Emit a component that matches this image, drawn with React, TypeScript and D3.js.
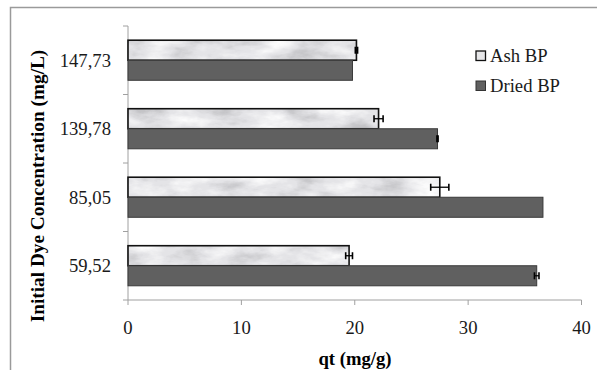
import React from "react";
import * as d3 from "d3";

const categories = ["59,52", "85,05", "139,78", "147,73"];
const seriesNames = ["Ash BP", "Dried BP"];
const ashValues = [19.5, 27.5, 22.1, 20.15];
const ashErrors = [0.3, 0.8, 0.4, 0.1];
const driedValues = [36.05, 36.6, 27.3, 19.8];
const driedErrors = [0.2, 0, 0.05, 0];
const xTicks = [0, 10, 20, 30, 40];

const W = 597;
const H = 370;
const plot = { left: 128, right: 581.5, top: 26, bottom: 300 };

export default function App() {
  const x = d3.scaleLinear().domain([0, 40]).range([plot.left, plot.right]);
  const y = d3
    .scaleBand<string>()
    .domain([...categories].reverse())
    .range([plot.top, plot.bottom])
    .paddingInner(0.415)
    .paddingOuter(0.2075);
  const bw = y.bandwidth() / 2;
  const bandStep = y.step();
  const tickYs = d3.range(categories.length + 1).map((i) => plot.top + i * bandStep);
  const serif = "'Liberation Serif', 'Times New Roman', Times, serif";
  const axisColor = "#a0a0a0";
  const fs = 18.67;

  const errBar = (xv: number, e: number, yc: number, key: string) => {
    if (e <= 0) return null;
    const x1 = x(xv - e);
    const x2 = x(xv + e);
    return (
      <g key={key} stroke="#000" strokeWidth={1.3}>
        <line x1={x1} x2={x2} y1={yc} y2={yc} />
        <line x1={x1} x2={x1} y1={yc - 3.5} y2={yc + 3.5} strokeWidth={1.6} />
        <line x1={x2} x2={x2} y1={yc - 3.5} y2={yc + 3.5} strokeWidth={1.6} />
      </g>
    );
  };

  return (
    <svg
      width={W}
      height={H}
      style={{ position: "absolute", left: 0, top: 0, background: "#fff", fontFamily: serif }}
    >
      <defs>
        <filter id="marble" x="0" y="0" width="100%" height="100%">
          <feTurbulence type="fractalNoise" baseFrequency="0.025 0.06" numOctaves={5} seed={3} result="noise" />
          <feColorMatrix
            in="noise"
            type="matrix"
            values="0 0 0 0 0.55  0 0 0 0 0.55  0 0 0 0 0.57  3.2 0 0 0 -1.7"
            result="dk"
          />
          <feColorMatrix
            in="noise"
            type="matrix"
            values="0 0 0 0 1  0 0 0 0 1  0 0 0 0 1  -3 0 0 0 1.5"
            result="lt"
          />
          <feFlood floodColor="#e4e4e7" result="base" />
          <feComposite in="lt" in2="base" operator="over" result="b2" />
          <feComposite in="dk" in2="b2" operator="over" />
        </filter>
        <pattern id="ashPat" patternUnits="userSpaceOnUse" x={plot.left} y={0} width={320} height={H}>
          <rect width={320} height={H} filter="url(#marble)" />
        </pattern>
      </defs>

      {/* outer frame */}
      <path d={`M10.5,${H} L10.5,7.5 L${W},7.5`} fill="none" stroke="#9a9a9a" strokeWidth={1.5} />

      {/* axes */}
      <line x1={plot.left} x2={plot.left} y1={plot.top} y2={plot.bottom} stroke={axisColor} />
      <line x1={plot.left} x2={plot.right} y1={plot.bottom} y2={plot.bottom} stroke={axisColor} />
      {tickYs.map((ty, i) => (
        <line key={"yt" + i} x1={plot.left - 5} x2={plot.left} y1={ty} y2={ty} stroke={axisColor} />
      ))}
      {xTicks.map((t) => (
        <g key={"xt" + t}>
          <line x1={x(t)} x2={x(t)} y1={plot.bottom} y2={plot.bottom + 5} stroke={axisColor} />
          <text x={x(t)} y={plot.bottom + 34} textAnchor="middle" fontSize={fs} fill="#1a1a1a">
            {t}
          </text>
        </g>
      ))}

      {/* bars */}
      {categories.map((c, i) => {
        const y0 = y(c)!;
        return (
          <g key={c}>
            <rect
              x={x(0)}
              y={y0}
              width={x(ashValues[i]) - x(0)}
              height={bw}
              fill="url(#ashPat)"
              stroke="#111"
              strokeWidth={1.6}
            />
            <rect
              x={x(0)}
              y={y0 + bw}
              width={x(driedValues[i]) - x(0)}
              height={bw}
              fill="#606060"
              stroke="#3a3a3a"
              strokeWidth={1}
            />
            {errBar(ashValues[i], ashErrors[i], y0 + bw / 2, "ea" + i)}
            {errBar(driedValues[i], driedErrors[i], y0 + bw * 1.5, "ed" + i)}
            <text x={111} y={y0 + bw + 6.5} textAnchor="end" fontSize={fs} fill="#1a1a1a">
              {c}
            </text>
          </g>
        );
      })}

      {/* axis titles */}
      <text x={355} y={365} textAnchor="middle" fontSize={fs} fontWeight="bold" fill="#000">
        qt (mg/g)
      </text>
      <text
        transform={`translate(44,186) rotate(-90)`}
        textAnchor="middle"
        fontSize={19.3}
        fontWeight="bold"
        fill="#000"
      >
        Initial Dye Concentration (mg/L)
      </text>

      {/* legend */}
      <g>
        <rect x={476} y={51} width={9.5} height={9.5} fill="#e6e6e8" stroke="#111" strokeWidth={1.3} />
        <text x={490} y={62} fontSize={fs} fill="#1a1a1a">
          {seriesNames[0]}
        </text>
        <rect x={476} y={81} width={9.5} height={9.5} fill="#606060" stroke="#333" strokeWidth={1} />
        <text x={490} y={92} fontSize={fs} fill="#1a1a1a">
          {seriesNames[1]}
        </text>
      </g>
    </svg>
  );
}
